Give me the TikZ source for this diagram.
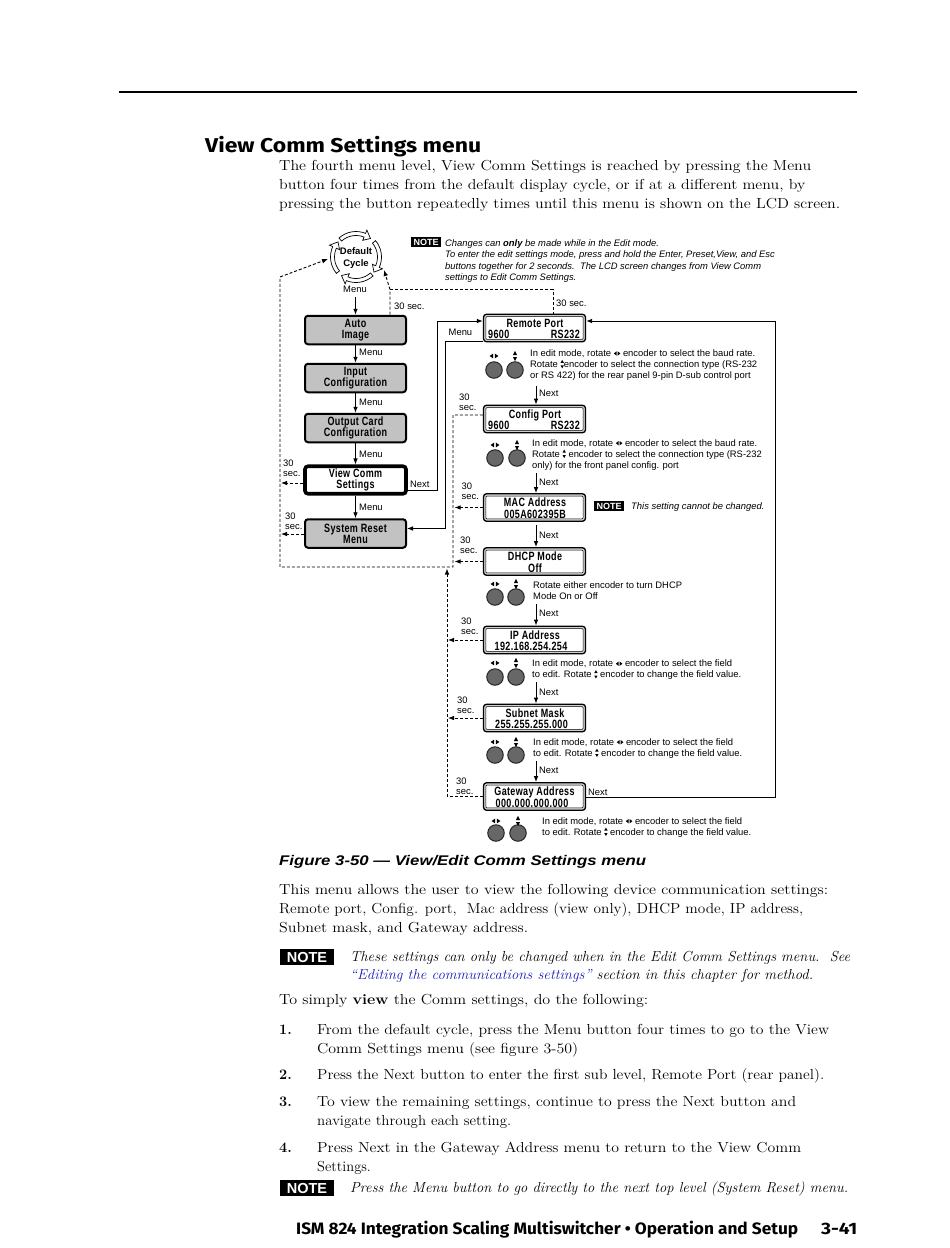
\documentclass[tikz,border=0pt]{standalone}
\usepackage{fontspec}
\usepackage{graphicx}
\usetikzlibrary{arrows.meta,calc}
\newfontfamily\lsans{Liberation Sans}
\newfontfamily\csans[FakeStretch=0.75,LetterSpace=3]{Liberation Sans}
\newfontfamily\hsans{Fira Sans}
\definecolor{boxgray}{HTML}{C2C2C2}
\definecolor{ringgray}{HTML}{CFCFCF}
\definecolor{knobgray}{HTML}{676767}
\definecolor{linkblue}{HTML}{1A1AB8}
\newcommand\fw[2]{\resizebox{#1pt}{\height}{#2}}
\newcommand\lrsym{\tikz[baseline=0pt,x=1pt,y=1pt]{\fill (0,2.8)--(2.8,0.6)--(2.8,5)--cycle; \fill (6.6,2.8)--(3.8,0.6)--(3.8,5)--cycle;}}
\newcommand\udsym{\tikz[baseline=0pt,x=1pt,y=1pt]{\fill (1.7,-1)--(0,2)--(3.4,2)--cycle; \fill (1.7,7.4)--(0,4.4)--(3.4,4.4)--cycle;}}
\newcommand\knobpair[5]{%
  \node[knob] (#1a) at (#2,#4) {};
  \node[knob] (#1b) at (#3,#4) {};
  \fill ({#2-4.4},#5) -- ({#2-0.8},{#5-2.4}) -- ({#2-0.8},{#5+2.4}) -- cycle;
  \fill ({#2+4.4},#5) -- ({#2+0.8},{#5-2.4}) -- ({#2+0.8},{#5+2.4}) -- cycle;
  \fill (#3,{#5-5.2}) -- ({#3-2},{#5-1}) -- ({#3+2},{#5-1}) -- cycle;
  \fill (#3,{#5+5.2}) -- ({#3-2},{#5+1}) -- ({#3+2},{#5+1}) -- cycle;
}
\newcommand\thirty[3]{%
  \node[txt] (#1) at (#2,#3) {30};
  \node[txt] (#1s) at (#2,{#3+9.7}) {sec.};
}
\begin{document}
\begin{tikzpicture}[x=1pt,y=-1pt,
  txt/.style={inner sep=0pt, anchor=base west, font=\lsans\fontsize{9.4}{11}\selectfont},
  itx/.style={inner sep=0pt, anchor=base west, font=\lsans\itshape\fontsize{9.4}{11}\selectfont},
  body/.style={inner sep=0pt, anchor=base west, font=\fontsize{14.5}{18}\selectfont},
  menubox/.style={draw, rounded corners=3pt, line width=2pt, fill=boxgray, minimum width=101pt, minimum height=28.5pt, inner sep=0pt, align=center, font=\csans\bfseries\fontsize{12}{11.2}\selectfont},
  lcd/.style={draw, rounded corners=3pt, line width=1.3pt, fill=ringgray, minimum width=102pt, minimum height=27.5pt, inner sep=0pt},
  lcdt/.style={inner sep=0pt, font=\csans\bfseries\fontsize{12}{12}\selectfont},
  arr/.style={-{Latex[length=6pt,width=4.6pt]}, line width=0.9pt},
  dsh/.style={dash pattern=on 3pt off 2pt, line width=0.9pt},
  knob/.style={circle, draw=black!85, line width=1pt, fill=knobgray, minimum size=16.5pt, inner sep=0pt},
  smallnote/.style={fill=black, text=white, inner sep=0pt, minimum width=30pt, minimum height=10.5pt, font=\lsans\bfseries\fontsize{9}{9}\selectfont},
  bignote/.style={fill=black, text=white, inner sep=0pt, minimum width=54pt, minimum height=16pt, font=\lsans\bfseries\fontsize{14.5}{15}\selectfont},
]
\useasboundingbox (0,0) rectangle (950,1248);
\fill[white] (0,0) rectangle (950,1248);

% page rule and heading
\draw[line width=1.8pt] (119,92) -- (857,92);
\node[inner sep=0pt, anchor=base west, font=\hsans\bfseries\fontsize{20}{24}\selectfont] (head) at (205,152) {\fw{276}{View Comm Settings menu}};
\node[body] (p1) at (279,170) {\fw{532}{The fourth menu level, View Comm Settings is reached by pressing the Menu}};
\node[body] (p2) at (279,189) {\fw{526}{button four times from the default display cycle, or if at a different menu, by}};
\node[body] (p3) at (279,208) {\fw{561}{pressing the button repeatedly times until this menu is shown on the LCD screen.}};

% top note
\node[smallnote] (tn) at (426,242) {NOTE};
\node[itx] (tn1) at (445,246.3) {Changes can {\bfseries only} be made while in the Edit mode.};
\node[itx] (tn2) at (445,257.6) {To enter the edit settings mode, press and hold the Enter, Preset,View, and Esc};
\node[itx] (tn3) at (445,269) {buttons together for 2 seconds.\ \ The LCD screen changes from View Comm};
\node[itx] (tn4) at (445,280.4) {settings to Edit Comm Settings.};

% default cycle
\node[inner sep=0pt, align=center, font=\lsans\bfseries\fontsize{9.5}{12}\selectfont] (dc) at (356,258) {Default\\Cycle};
\foreach \a/\b in {-132/-52, -40/40, 48/128, 140/220} {
  \pgfmathsetmacro\h{\b-16}
  \filldraw[fill=white, line width=0.7pt, shift={(356,257)}] (\a:21.5) arc[start angle=\a, end angle=\h, radius=21.5] -- (\h:18) -- (\b:23.5) -- (\h:29) -- (\h:25.5) arc[start angle=\h, end angle=\a, radius=25.5] -- cycle;
}
\node[txt, anchor=base] (m0l) at (355,292.5) {Menu};
\coordinate (m0) at (355.5,297);

% left column
\node[menubox] (auto) at (355.5,330) {Auto\\Image};
\node[menubox] (inp) at (355.5,378) {Input\\Configuration};
\node[menubox] (outc) at (355.5,428) {Output Card\\Configuration};
\node[menubox, fill=white, line width=3.6pt, minimum height=27.5pt] (view) at (355.5,480) {View Comm\\Settings};
\node[menubox] (sys) at (355.5,533.5) {System Reset\\Menu};

\draw[arr] (m0) -- (auto.north);
\draw[arr] (auto.south) -- (inp.north);
\draw[arr] (inp.south) -- (outc.north);
\draw[arr] (outc.south) -- (view.north);
\draw[arr] (view.south) -- (sys.north);
\node[txt] (ml1) at (359,355.5) {Menu};
\node[txt] (ml2) at (359,405.5) {Menu};
\node[txt] (ml3) at (359,457.5) {Menu};
\node[txt] (ml4) at (359,510.5) {Menu};

% right column LCD boxes
\node[lcd] (rp) at (534.5,328) {};
\node[lcd] (cfg) at (534.5,419) {};
\node[lcd] (mac) at (534.5,507.5) {};
\node[lcd] (dhcp) at (534.5,561.5) {};
\node[lcd] (ip) at (534.5,640) {};
\node[lcd] (sub) at (534.5,718) {};
\node[lcd] (gw) at (534.5,796.5) {};
\foreach \n in {rp,cfg,mac,dhcp,ip,sub,gw}
  \draw[fill=white, line width=0.6pt, rounded corners=1pt] ($(\n.north west)+(3,3)$) rectangle ($(\n.south east)+(-3,-3)$);

\node[lcdt, anchor=base] (rpt) at (535,327) {Remote Port};
\node[lcdt, anchor=base west] (rp1) at (488,338.5) {9600};
\node[lcdt, anchor=base east] (rp2) at (580,338.5) {RS232};
\node[lcdt, anchor=base] (cft) at (535,418) {Config Port};
\node[lcdt, anchor=base west] (cf1) at (488,429.5) {9600};
\node[lcdt, anchor=base east] (cf2) at (580,429.5) {RS232};
\node[lcdt, anchor=base] (mct) at (535,506.5) {MAC Address};
\node[lcdt, anchor=base] (mc1) at (535,518) {005A602395B};
\node[lcdt, anchor=base] (dht) at (535,560.5) {DHCP Mode};
\node[lcdt, anchor=base] (dh1) at (535,572) {Off};
\node[lcdt, anchor=base] (ipt) at (535,639) {IP Address};
\node[lcdt, anchor=base] (ip1) at (531,650.5) {192.168.254.254};
\node[lcdt, anchor=base] (sbt) at (535,717) {Subnet Mask};
\node[lcdt, anchor=base] (sb1) at (531.5,728.5) {255.255.255.000};
\node[lcdt, anchor=base] (gwt) at (534.5,795.5) {Gateway Address};
\node[lcdt, anchor=base] (gw1) at (532,807) {000.000.000.000};

% knobs and descriptions
\knobpair{rk}{494}{515}{370}{356}
\knobpair{ck}{495}{517}{458}{445}
\knobpair{dk}{495}{516}{597}{584}
\knobpair{ik}{495}{516}{677}{663}
\knobpair{sk}{495}{516}{755}{742}
\knobpair{gk}{496}{518}{833}{821}

\node[txt] (rd1) at (530,356.3) {In edit mode, rotate \lrsym\ encoder to select the baud rate.};
\node[txt] (rd2) at (530,367.3) {Rotate \udsym encoder to select the connection type (RS-232};
\node[txt] (rd3) at (530,378.3) {or RS 422) for the rear panel 9-pin D-sub control port};
\node[txt] (cd1) at (532,446) {In edit mode, rotate \lrsym\ encoder to select the baud rate.};
\node[txt] (cd2) at (532,457) {Rotate \udsym\ encoder to select the connection type (RS-232};
\node[txt] (cd3) at (532,468) {only) for the front panel config. port};
\node[txt] (dd1) at (533,588) {Rotate either encoder to turn DHCP};
\node[txt] (dd2) at (533,599) {Mode On or Off};
\node[txt] (id1) at (532,666.5) {In edit mode, rotate \lrsym\ encoder to select the field};
\node[txt] (id2) at (532,677.5) {to edit. Rotate \udsym\ encoder to change the field value.};
\node[txt] (sd1) at (533,745) {In edit mode, rotate \lrsym\ encoder to select the field};
\node[txt] (sd2) at (533,756) {to edit. Rotate \udsym\ encoder to change the field value.};
\node[txt] (gd1) at (542,824) {In edit mode, rotate \lrsym\ encoder to select the field};
\node[txt] (gd2) at (542,835) {to edit. Rotate \udsym\ encoder to change the field value.};

% MAC note
\node[smallnote] (mn) at (609,506) {NOTE};
\node[itx] (mnt) at (631,509.3) {This setting cannot be changed.};

% Next arrows in right column
\coordinate (n1) at (536,386);
\coordinate (n2) at (536,473);
\coordinate (n3) at (536,525);
\coordinate (n4) at (536,604);
\coordinate (n5) at (536,682);
\coordinate (n6) at (536,761);
\draw[arr] (n1) -- (n1 |- cfg.north);
\draw[arr] (n2) -- (n2 |- mac.north);
\draw[arr] (n3) -- (n3 |- dhcp.north);
\draw[arr] (n4) -- (n4 |- ip.north);
\draw[arr] (n5) -- (n5 |- sub.north);
\draw[arr] (n6) -- (n6 |- gw.north);
\node[txt] (nl1) at (539,396.5) {Next};
\node[txt] (nl2) at (539,485.5) {Next};
\node[txt] (nl3) at (539,538.5) {Next};
\node[txt] (nl4) at (539,616.5) {Next};
\node[txt] (nl5) at (539,695.5) {Next};
\node[txt] (nl6) at (539,773.5) {Next};

% solid connectors between columns
\coordinate (vn) at ($(view.east)+(0,10)$);
\coordinate (rpin) at ($(rp.west)+(0,-7)$);
\coordinate (rpout) at ($(rp.west)+(0,13)$);
\coordinate (sysin) at ($(sys.east)+(0,-5)$);
\draw[arr] (vn) -- (437,490) -- (437,321) -- (rpin);
\draw[arr] (rpout) -- (445,341) -- (445,528.5) -- (sysin);
\node[txt] (vnl) at (410,487) {Next};
\node[txt] (rml) at (448.5,335) {Menu};
\coordinate (gwout) at ($(gw.east)+(0,1)$);
\coordinate (rpr) at ($(rp.east)+(0,-7)$);
\draw[arr] (gwout) -- (775,797.5) -- (775,321) -- (rpr);
\node[txt] (gwn) at (588,795) {Next};

% dashed timeouts
\coordinate (cfgw) at ($(cfg.west)+(0,-4)$);
\coordinate (cl) at (453,567);
\coordinate (bl) at (280,567);
\coordinate (tl) at (280,277);
\coordinate (dcl) at (328,259);
\draw[dsh, arr] (cfgw) -| (cl) -- (bl) -- (tl) -- (dcl);
\draw[dsh, arr] (mac.west) -- (mac.west -| 454.5,0);
\draw[dsh, arr] (dhcp.west) -- (dhcp.west -| 454.5,0);
\draw[dsh, arr] (ip.west) -- (ip.west -| 448,0);
\draw[dsh, arr] (sub.west) -- (sub.west -| 448,0);
\coordinate (gl) at (447,796.5);
\coordinate (gup) at (447,568.5);
\draw[dsh, arr] (gw.west) -- (gl) -- (gup);
\coordinate (lv) at (281,483);
\coordinate (ls) at (281,534);
\draw[dsh, arr] (view.west |- lv) -- (lv);
\draw[dsh, arr] (sys.west |- ls) -- (ls);
\coordinate (at) at (390,314.5);
\coordinate (ac) at (390,289.5);
\coordinate (dcr) at (384,270);
\coordinate (rt) at (553,314.5);
\draw[dsh] (rt) -- (553,289.5) -- (ac);
\draw[dsh, arr] (at) -- (ac) -- (dcr);

\node[txt] (t1x) at (394,309.5) {30 sec.};
\node[txt] (t2x) at (556,306.5) {30 sec.};
\thirty{s1}{283}{466.8}
\thirty{s2}{285}{519.5}
\thirty{s3}{459}{400.8}
\thirty{s4}{461.5}{489.5}
\thirty{s5}{460}{543.8}
\thirty{s6}{461}{624.8}
\thirty{s7}{457}{703.8}
\thirty{s8}{456}{784.8}

% caption and body
\node[inner sep=0pt, anchor=base west, font=\lsans\bfseries\itshape\fontsize{14}{16}\selectfont] (cap) at (279,865) {\fw{367}{Figure 3-50 — View/Edit Comm Settings menu}};
\node[body] (b1) at (279,894.5) {\fw{549}{This menu allows the user to view the following device communication settings:}};
\node[body] (b2) at (279,913.5) {\fw{524}{Remote port, Config. port,\ \ Mac address (view only), DHCP mode, IP address,}};
\node[body] (b3) at (279,932.5) {\fw{249}{Subnet mask, and Gateway address.}};
\node[bignote] (bn1) at (307,957) {NOTE};
\node[body, font=\itshape\fontsize{14.5}{18}\selectfont] (bn1a) at (350,961.5) {\fw{500}{These settings can only be changed when in the Edit Comm Settings menu.\ \ See}};
\node[body, font=\itshape\fontsize{14.5}{18}\selectfont] (bn1b) at (350,979.5) {\fw{463}{{\color{linkblue}“Editing the communications settings”} section in this chapter for method.}};
\node[body] (b4) at (279,1004.5) {\fw{369}{To simply {\bfseries view} the Comm settings, do the following:}};
\node[body, font=\bfseries\fontsize{14.5}{18}\selectfont] (i1) at (279,1034.5) {1.};
\node[body] (i1a) at (317,1034.5) {\fw{512}{From the default cycle, press the Menu button four times to go to the View}};
\node[body] (i1b) at (317,1053.5) {\fw{261}{Comm Settings menu (see figure 3-50)}};
\node[body, font=\bfseries\fontsize{14.5}{18}\selectfont] (i2) at (279,1079.5) {2.};
\node[body] (i2a) at (317,1079.5) {\fw{507}{Press the Next button to enter the first sub level, Remote Port (rear panel).}};
\node[body, font=\bfseries\fontsize{14.5}{18}\selectfont] (i3) at (279,1106.5) {3.};
\node[body] (i3a) at (317,1106.5) {\fw{479}{To view the remaining settings, continue to press the Next button and}};
\node[body] (i3b) at (317,1125.5) {\fw{194}{navigate through each setting.}};
\node[body, font=\bfseries\fontsize{14.5}{18}\selectfont] (i4) at (279,1152.5) {4.};
\node[body] (i4a) at (317,1152.5) {\fw{484}{Press Next in the Gateway Address menu to return to the View Comm}};
\node[body] (i4b) at (317,1171.5) {Settings.};
\node[bignote] (bn2) at (307,1188) {NOTE};
\node[body, font=\itshape\fontsize{14.5}{18}\selectfont] (bn2a) at (350,1192.5) {\fw{498}{Press the Menu button to go directly to the next top level (System Reset) menu.}};

% footer
\node[inner sep=0pt, anchor=base west, font=\hsans\bfseries\fontsize{16.5}{18}\selectfont] (foot) at (296,1234) {\fw{502}{ISM 824 Integration Scaling Multiswitcher • Operation and Setup}};
\node[inner sep=0pt, anchor=base west, font=\hsans\bfseries\fontsize{16.5}{18}\selectfont] (pg) at (821,1234) {\fw{36}{3-41}};
\end{tikzpicture}
\end{document}
